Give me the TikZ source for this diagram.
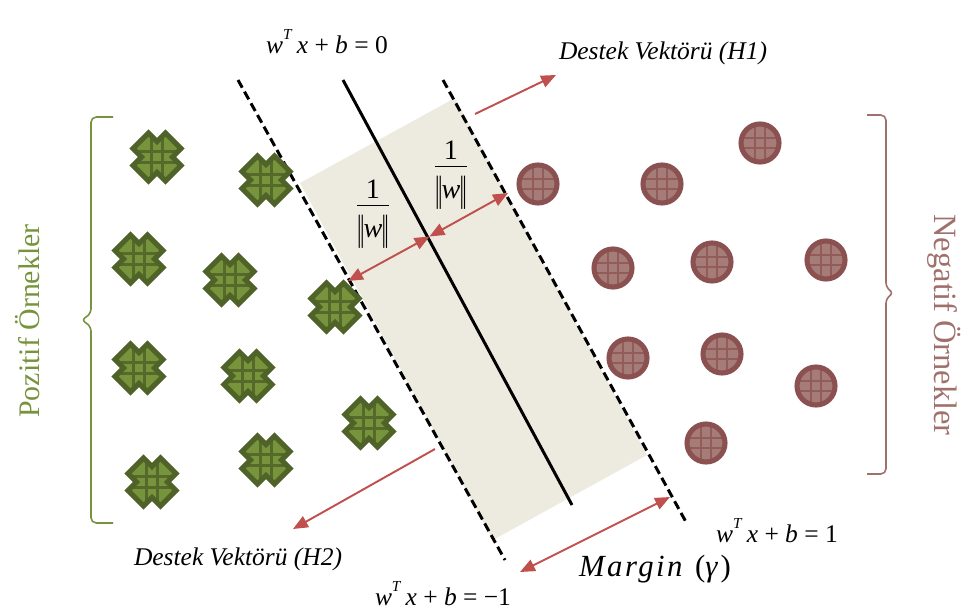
\documentclass[tikz,border=0pt]{standalone}
\usepackage{fontspec}
\setmainfont{Liberation Serif}
\usepackage{tikz}
\usetikzlibrary{arrows.meta}
\definecolor{bantrenk}{HTML}{EDEBE0}
\definecolor{pozkoyu}{HTML}{4F6228}
\definecolor{pozacik}{HTML}{77933C}
\definecolor{negkoyu}{HTML}{8B5150}
\definecolor{negacik}{HTML}{A67C78}
\definecolor{negyazi}{HTML}{A0716C}
\definecolor{oktrenk}{HTML}{C0504D}
% cross shaped marker outline, in px units
\newcommand\artiyol{(8.5,24) -- (24,8.5) -- (15.5,0) -- (24,-8.5) -- (8.5,-24) -- (0,-15.5) -- (-8.5,-24) -- (-24,-8.5) -- (-15.5,0) -- (-24,8.5) -- (-8.5,24) -- (0,15.5) -- cycle}
% italic letters of the equations
\newcommand\denk[1]{\textit{w}\raisebox{0.55em}{\scalebox{0.6}{\textit{T}}}\,\textit{x} + \textit{b} = #1}
\newcommand\cizgi{\raisebox{-0.12em}{\scalebox{0.8}[1.3]{\textbar\kern-1.2pt\textbar}}}
\newcommand\kesir{\begin{tabular}{@{}c@{}}1\\[-2pt]\hline\rule{0pt}{1.1em}\cizgi\kern-0.5pt\textit{w}\kern-0.5pt\cizgi\end{tabular}}

\begin{document}
\begin{tikzpicture}[x=0.02cm,y=-0.02cm,>={Triangle[length=8.5pt,width=7pt]}]
  \tikzstyle{pozitif}=[minimum size=1.2cm,inner sep=0pt,
    path picture={\begin{scope}[shift={(path picture bounding box.center)}]
      \fill[pozacik] \artiyol;
      \begin{scope}
        \clip \artiyol;
        \draw[pozkoyu!85!pozacik,line width=1.3pt] (-5.5,-30) -- (-5.5,30) (5.5,-30) -- (5.5,30) (-30,-5.5) -- (30,-5.5) (-30,5.5) -- (30,5.5);
      \end{scope}
      \draw[pozkoyu,line width=2.9pt] \artiyol;
    \end{scope}}]
  \tikzstyle{negatif}=[circle,minimum size=0.76cm,inner sep=0pt,fill=negacik,draw=negkoyu,line width=2.9pt,
    path picture={\draw[negkoyu!75!negacik,line width=1.3pt,shift={(path picture bounding box.center)}]
      (-5,-25) -- (-5,25) (5,-25) -- (5,25) (-25,-5) -- (25,-5) (-25,5) -- (25,5);}]
  \tikzstyle{kesik}=[line width=1.7pt,dash pattern=on 5pt off 2.6pt]
  \tikzstyle{ok}=[oktrenk,line width=1.1pt]
  \tikzstyle{denklem}=[inner sep=1pt,font=\fontsize{14.5}{17}\selectfont]
  \tikzstyle{destek}=[inner sep=1pt,font=\fontsize{14.5}{17}\selectfont\itshape]
  \useasboundingbox (0,0) rectangle (970,612);

  % margin band
  \fill[bantrenk] (300,183) -- (455,98) -- (647,455) -- (493,540) -- cycle;

  % hyperplanes
  \coordinate (h2ust) at (238,80);
  \coordinate (h2alt) at (505,560);
  \coordinate (h0ust) at (343,80);
  \coordinate (h0alt) at (572,505);
  \coordinate (h1ust) at (443,80);
  \coordinate (h1alt) at (686,522);
  \draw[kesik] (h2ust) -- (h2alt);
  \draw[line width=1.7pt] (h0ust) -- (h0alt);
  \draw[kesik] (h1ust) -- (h1alt);

  % positive samples
  \foreach \x/\y [count=\i] in {157/157,266/180,139/259,230/280,335/307,139/368,248/376,369/423,266/460,152/482}
    \node[pozitif] (pz\i) at (\x,\y) {};
  % negative samples
  \foreach \x/\y [count=\i] in {538/184,662/184,760/143,613/268,712/262,826/260,628/358,722/354,816/386,706/443}
    \node[negatif] (ng\i) at (\x,\y) {};

  % braces
  \draw[pozacik,line width=0.9pt,rounded corners=3pt] (113,117) -- (91,117) -- (91,314) -- (81,320) -- (91,326) -- (91,523) -- (113,523);
  \draw[negyazi,line width=0.9pt,rounded corners=3pt] (867,115) -- (886,115) -- (886,288) -- (894,293) -- (886,298) -- (886,474) -- (867,474);
  \node[rotate=90,text=pozacik,font=\fontsize{17}{20}\selectfont] (poz) at (28,321) {Pozitif Örnekler};
  \node[rotate=-90,text=negyazi,font=\fontsize{18.5}{22}\selectfont] (neg) at (944,325) {Negatif Örnekler};

  % distance arrows
  \coordinate (sol) at (348,281);
  \coordinate (orta) at (429.5,236.5);
  \coordinate (sag) at (508,193);
  \draw[ok,<->] (sol) -- (orta);
  \draw[ok,<->] (orta) -- (sag);
  \node[font=\fontsize{16}{19}\selectfont] (frsol) at (373,212) {\kesir};
  \node[font=\fontsize{16}{19}\selectfont] (frsag) at (451,173) {\kesir};

  % margin
  \coordinate (msol) at (520,572);
  \coordinate (msag) at (670,497);
  \draw[ok,<->] (msol) -- (msag);
  \node[inner sep=1pt,font=\fontsize{17.5}{20}\selectfont] (margin) at (655,569) {\addfontfeatures{LetterSpace=8}\textit{Margin} (\textit{γ})};

  % support vectors
  \coordinate (h1kuyruk) at (475,114);
  \coordinate (h1uc) at (556,75);
  \node[destek] (dv1) at (663,53) {Destek Vektörü (H1)};
  \draw[ok,->] (h1kuyruk) -- (h1uc);
  \coordinate (h2kuyruk) at (435,449);
  \coordinate (h2uc) at (293,529);
  \node[destek] (dv2) at (238,559) {Destek Vektörü (H2)};
  \draw[ok,->] (h2kuyruk) -- (h2uc);

  % equations
  \node[denklem] (d0) at (327,42) {\denk{0}};
  \node[denklem] (d1) at (777,531) {\denk{1}};
  \node[denklem] (d2) at (443,594) {\denk{−1}};
\end{tikzpicture}
\end{document}
